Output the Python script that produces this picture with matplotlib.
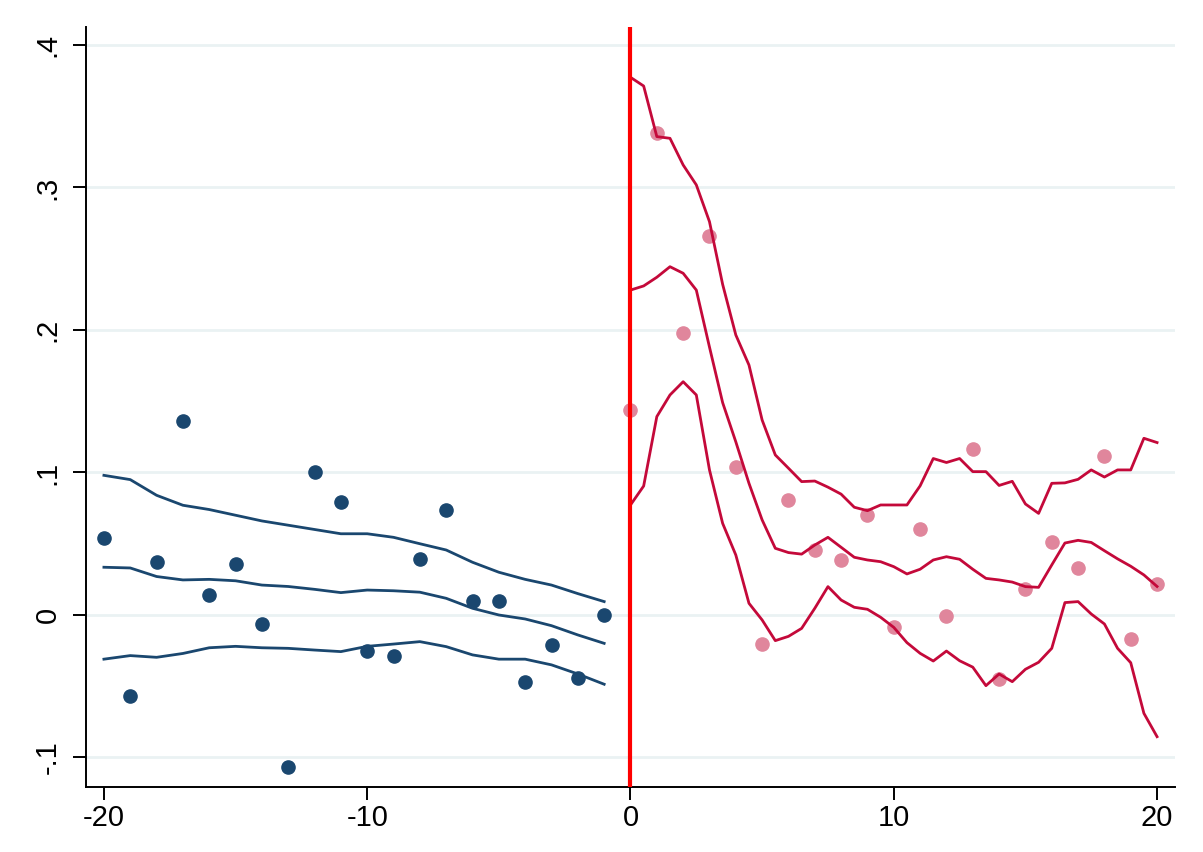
import numpy as np
import matplotlib.pyplot as plt

# pre-period (t = -20 .. -1)
t_pre = np.arange(-20, 0)
y_pre = [0.054, -0.057, 0.037, 0.136, 0.014, 0.036, -0.006, -0.107, 0.100, 0.079,
         -0.025, -0.029, 0.039, 0.074, 0.010, 0.010, -0.047, -0.021, -0.044, 0.000]
pre_hi = [0.098, 0.095, 0.084, 0.077, 0.074, 0.070, 0.066, 0.063, 0.060, 0.057,
          0.057, 0.0545, 0.050, 0.0456, 0.037, 0.030, 0.025, 0.021, 0.015, 0.0094]
pre_mid = [0.0335, 0.033, 0.027, 0.0246, 0.025, 0.024, 0.021, 0.020, 0.018, 0.0157,
           0.0175, 0.017, 0.016, 0.0117, 0.0047, 0.0, -0.0028, -0.0075, -0.014, -0.0199]
pre_lo = [-0.031, -0.0285, -0.0297, -0.027, -0.023, -0.022, -0.023, -0.0234, -0.0246, -0.0257,
          -0.022, -0.0204, -0.0187, -0.0222, -0.028, -0.031, -0.031, -0.035, -0.0414, -0.0486]

# post-period points (t = 0 .. 20)
t_post = np.arange(0, 21)
y_post = [0.144, 0.338, 0.198, 0.266, 0.104, -0.0205, 0.0807, 0.0453, 0.0386, 0.070,
          -0.0086, 0.060, -0.001, 0.1165, -0.0449, 0.018, 0.0513, 0.0328, 0.1113, -0.017, 0.0214]

# post-period bands on half-unit grid
t_band = np.arange(0, 20.5, 0.5)
post_hi = [0.3773, 0.3712, 0.3357, 0.3345, 0.3158, 0.3018, 0.276, 0.232, 0.1965, 0.1754,
           0.1368, 0.1123, 0.103, 0.0936, 0.094, 0.0897, 0.0848, 0.0756, 0.0732, 0.0772,
           0.0772, 0.0772, 0.0906, 0.1098, 0.107, 0.1098, 0.1006, 0.1006, 0.0909, 0.0938,
           0.0779, 0.0713, 0.0924, 0.0927, 0.0952, 0.1018, 0.0968, 0.1018, 0.1018, 0.124, 0.121]
post_mid = [0.228, 0.2309, 0.237, 0.2444, 0.2398, 0.228, 0.188, 0.149, 0.1215, 0.0924,
            0.0667, 0.0468, 0.0438, 0.0427, 0.0491, 0.0545, 0.0475, 0.0405, 0.0386, 0.0374,
            0.0339, 0.0288, 0.0321, 0.0386, 0.0409, 0.0391, 0.0321, 0.0257, 0.0246, 0.0231,
            0.0199, 0.0194, 0.0351, 0.0505, 0.0524, 0.0509, 0.0451, 0.0394, 0.0342, 0.0281, 0.020]
post_lo = [0.0772, 0.0905, 0.1392, 0.1544, 0.1637, 0.1544, 0.1018, 0.0643, 0.0421, 0.0082,
           -0.0035, -0.018, -0.015, -0.0094, 0.0047, 0.0199, 0.0105, 0.0054, 0.004, -0.0016,
           -0.0087, -0.0194, -0.0269, -0.0323, -0.0253, -0.0321, -0.0366, -0.0496, -0.0414, -0.0468,
           -0.0381, -0.0332, -0.0234, 0.0087, 0.0094, 0.0007, -0.0063, -0.0234, -0.0335, -0.069, -0.0854]

navy = '#1a476f'
cran = '#c4093a'
pink = '#e0869c'

plt.rcParams['font.family'] = ['Liberation Sans', 'DejaVu Sans']

fig = plt.figure(figsize=(12.03, 8.52), dpi=100)
ax = fig.add_axes([0.0715, 0.0763, 0.9052, 0.892])

for v in [-0.1, 0.0, 0.1, 0.2, 0.3, 0.4]:
    ax.axhline(v, color='#eaf2f3', lw=2.0, zorder=0)

ax.plot(t_pre, y_pre, 'o', color=navy, ms=9.5, zorder=3)
ax.plot(t_pre, pre_hi, color=navy, lw=2.0, zorder=2)
ax.plot(t_pre, pre_mid, color=navy, lw=2.0, zorder=2)
ax.plot(t_pre, pre_lo, color=navy, lw=2.0, zorder=2)

ax.plot(t_post, y_post, 'o', color=pink, ms=9.5, zorder=2)
ax.plot(t_band, post_hi, color=cran, lw=2.0, zorder=3)
ax.plot(t_band, post_mid, color=cran, lw=2.0, zorder=3)
ax.plot(t_band, post_lo, color=cran, lw=2.0, zorder=3)

ax.axvline(0, color='#ff0000', lw=3.0, zorder=4)

ax.set_xlim(-20.68, 20.68)
ax.set_ylim(-0.1207, 0.4126)
ax.set_xticks([-20, -10, 0, 10, 20])
ax.set_xticklabels(['-20', '-10', '0', '10', '20'])
ax.set_yticks([-0.1, 0, 0.1, 0.2, 0.3, 0.4])
ax.set_yticklabels(['-.1', '0', '.1', '.2', '.3', '.4'], rotation=90, va='center')

for s in ['top', 'right']:
    ax.spines[s].set_visible(False)
for s in ['left', 'bottom']:
    ax.spines[s].set_linewidth(1.4)
ax.tick_params(length=9.5, width=1.4, labelsize=21)
ax.tick_params(axis='x', pad=3)
ax.tick_params(axis='y', pad=8)

fig.savefig('out.png', dpi=100)
